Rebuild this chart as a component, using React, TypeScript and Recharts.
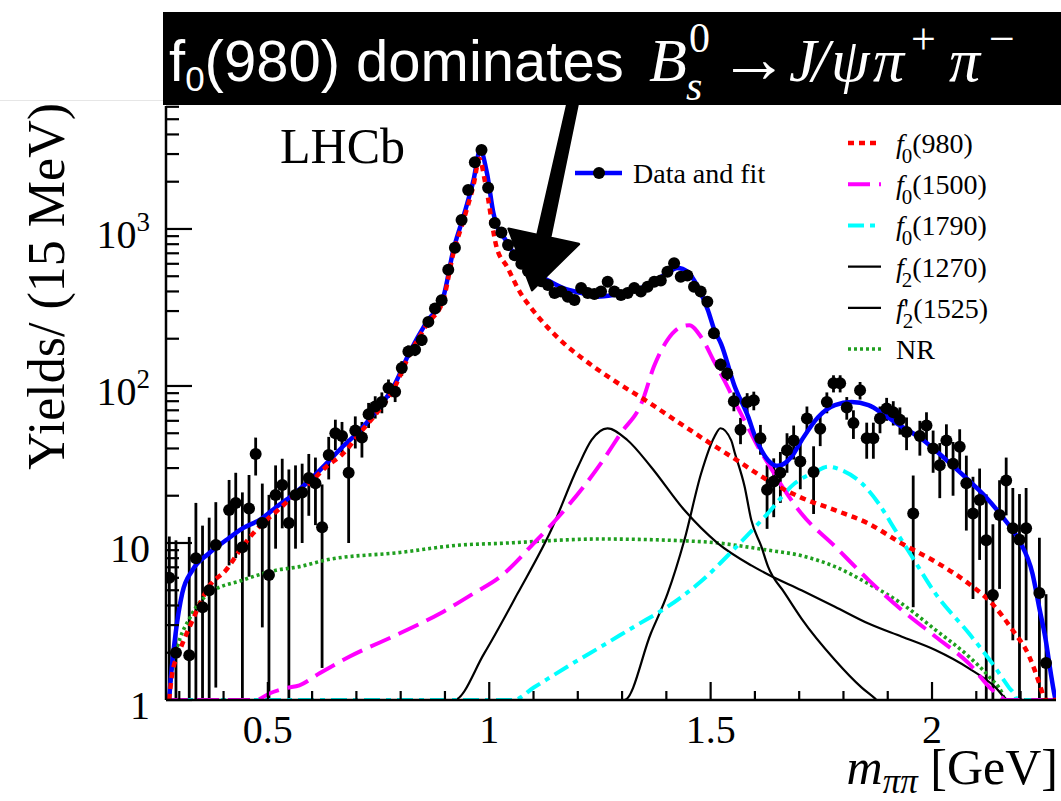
import React from 'react';
import { ComposedChart, Line, Scatter, XAxis, YAxis, ErrorBar, ReferenceLine, Legend } from 'recharts';

const SERIF = '"Liberation Serif", "Times New Roman", Times, serif';
const SANS = '"Liberation Sans", Arial, Helvetica, sans-serif';

// ---------- axis ticks ----------
const X_TICKS = [0.3, 0.4, 0.5, 0.6, 0.7, 0.8, 0.9, 1.0, 1.1, 1.2, 1.3, 1.4, 1.5, 1.6, 1.7, 1.8, 1.9, 2.0, 2.1, 2.2];
const X_MAJOR = [0.5, 1.0, 1.5, 2.0];
const X_LABELS = ['0.5', '1', '1.5', '2'];
const Y_TICKS = [1, 2, 3, 4, 5, 6, 7, 8, 9, 10, 20, 30, 40, 50, 60, 70, 80, 90, 100, 200, 300, 400, 500, 600, 700, 800, 900, 1000, 2000, 3000, 4000, 5000, 6000];
const Y_MAJOR = [1, 10, 100, 1000];
const Y_LABEL_BASE = ['1', '10', '10', '10'];
const Y_LABEL_EXP = ['', '', '2', '3'];
const X_DOMAIN = [0.27, 2.28];
const Y_DOMAIN = [1, 6070];

// ---------- data points (15 MeV bins) ----------
const MASS = [
  0.2775, 0.2925, 0.3225, 0.3375, 0.3525, 0.3675, 0.3825,
  0.4125, 0.4275, 0.4425, 0.4575, 0.4725, 0.4875, 0.5025, 0.5175, 0.5325, 0.5475, 0.5625, 0.5775, 0.5925,
  0.6075, 0.6225, 0.6375, 0.6525, 0.6675, 0.6825, 0.6975, 0.7125, 0.7275, 0.7425, 0.7575, 0.7725, 0.7875,
  0.8025, 0.8175, 0.8325, 0.8475, 0.8625, 0.8775, 0.8925, 0.9075, 0.9225, 0.9375, 0.9525, 0.9675, 0.9825,
  0.9975, 1.0125, 1.0275, 1.0425, 1.0575, 1.0725, 1.0875, 1.1025, 1.1175,
  1.1325, 1.1475, 1.1625, 1.1775, 1.1925, 1.2075, 1.2225, 1.2375, 1.2525, 1.2675, 1.2825, 1.2975, 1.3125,
  1.3275, 1.3425, 1.3575, 1.3725, 1.3875, 1.4025, 1.4175, 1.4325, 1.4475, 1.4625, 1.4775, 1.4925,
  1.5075, 1.5225, 1.5375, 1.5525, 1.5675, 1.5825, 1.5975, 1.6125, 1.6275, 1.6425, 1.6575, 1.6725, 1.6875,
  1.7025, 1.7175, 1.7325, 1.7475, 1.7625,
  1.7775, 1.7925, 1.8075, 1.8225, 1.8375, 1.8525, 1.8675, 1.8825, 1.8975, 1.9125, 1.9275, 1.9425, 1.9575,
  1.9725, 1.9875, 2.0025, 2.0175, 2.0325, 2.0475, 2.0625, 2.0775, 2.0925, 2.1075, 2.1225, 2.1375, 2.1525,
  2.1675, 2.1825, 2.1975, 2.2125, 2.2425, 2.2575,
];
const YIELD = [
  6.0, 2.0, 1.93, 8.0, 3.9, 5.0, 9.7,
  16.2, 18, 9.4, 16.6, 36.9, 13.4, 6.25, 20.2, 23.4, 13.4, 20.2, 21, 25.9,
  24, 12.6, 36.4, 50, 48, 28, 52, 47, 66, 74, 79, 97, 92,
  130, 166, 170, 196, 256, 312, 352, 550, 760, 1140, 1770, 2660, 3180,
  1830, 1090, 950, 790, 680, 600, 540, 495, 465,
  440, 391, 400, 370, 353, 421, 391, 385, 400, 461, 400, 380, 391,
  421, 400, 428, 461, 470, 534, 605, 497, 506, 428, 400, 344,
  217, 137, 120, 80, 52.6, 79, 81, 46.5, 21.8, 24.6, 28, 39, 45,
  33, 62, 28.3, 53.4, 79,
  104, 104, 73, 58, 94, 46.4, 46.4, 62, 72, 68, 61, 51, 15.4,
  48, 56, 40, 31.3, 45, 32, 41, 24, 15.4, 18.8, 10.4, 4.66, 15.1,
  25, 12.4, 10.5, 12.4, 4.8, 1.72,
];
const YIELD_ERR = [
  5, 8.4, 9, 10, 9, 9.5, 8.5,
  9, 10, 11.6, 10.5, 10, 10.5, 14, 11, 11, 16, 11, 11, 11,
  11, 11, 11, 11, 11, 18, 12, 12, 12, 12, 12, 13, 13,
  14, 15, 15, 16, 18, 19, 20, 24, 28, 34, 42, 52, 57,
  43, 33, 31, 28, 26, 25, 24, 23, 22,
  21, 20, 20, 20, 19, 21, 20, 20, 20, 21, 20, 20, 20,
  21, 20, 21, 21, 22, 23, 25, 22, 23, 21, 20, 19,
  15, 12, 12, 11, 10, 11, 11, 10, 9.5, 10, 10, 11, 11,
  11, 12, 13, 12, 12,
  13, 13, 12, 12, 12, 12, 12, 12, 12, 12, 12, 12, 11.5,
  12, 12, 12, 12, 12, 12, 12, 12, 11, 11, 10, 8.5, 10,
  10, 10, 10, 10, 6, 3,
];

// ---------- fit curves ----------
const TOTAL_X = [0.277, 0.2805, 0.2918, 0.3068, 0.3295, 0.3673, 0.4052, 0.4429, 0.4807, 0.5186, 0.5562, 0.5941, 0.632, 0.6689, 0.7075, 0.7454, 0.783, 0.8208, 0.8587, 0.8964, 0.919, 0.9417, 0.9644, 0.9796, 0.9948, 1.0098, 1.0211, 1.0324, 1.0551, 1.093, 1.1308, 1.1685, 1.2063, 1.2442, 1.2819, 1.3197, 1.3576, 1.3952, 1.4256, 1.4483, 1.471, 1.4937, 1.5086, 1.5238, 1.554, 1.5844, 1.6, 1.6297, 1.652, 1.6825, 1.7052, 1.7431, 1.7807, 1.8186, 1.8565, 1.8941, 1.932, 1.9698, 2.0075, 2.0454, 2.0832, 2.1209, 2.1587, 2.1966, 2.2268, 2.242, 2.2569, 2.2683, 2.276, 2.279];
const TOTAL_Y = [1.0, 1.34, 2.67, 4.8, 6.7, 8.6, 10.4, 12.4, 14.0, 16.9, 20.2, 25, 32, 41, 52, 70, 98, 165, 256, 370, 735, 1200, 2040, 3180, 2270, 1250, 980, 890, 700, 550, 473, 418, 392, 370, 380, 400, 438, 510, 565, 534, 428, 305, 227, 185, 100, 64, 48, 33.7, 31, 35.4, 45, 63.5, 75.5, 79, 75.5, 65, 55, 47.5, 39, 31.3, 25, 19.7, 14.7, 10.4, 6.4, 3.9, 2.4, 1.48, 1.1, 1.0];

const F0980_X = [0.277, 0.2841, 0.2993, 0.3295, 0.3673, 0.4052, 0.4429, 0.4807, 0.5186, 0.5562, 0.5941, 0.632, 0.6696, 0.7075, 0.7454, 0.783, 0.8208, 0.8587, 0.8964, 0.919, 0.9417, 0.9644, 0.978, 0.9905, 1.0169, 1.0402, 1.0703, 1.093, 1.1308, 1.1685, 1.2063, 1.28, 1.35, 1.43, 1.5, 1.55, 1.63, 1.70, 1.7807, 1.8565, 1.932, 2.0075, 2.0832, 2.1361, 2.1814, 2.2193, 2.242, 2.2494, 2.253, 2.28];
const F0980_Y = [1.0, 1.48, 2.0, 3.2, 5.3, 6.7, 9.5, 12.7, 15.8, 19.7, 24, 30.6, 37, 50, 67, 94, 160, 245, 355, 700, 1130, 1900, 2800, 2000, 760, 575, 392, 318, 238, 187, 153, 109, 82, 58, 43, 35, 25, 19.7, 16.2, 13.3, 9.9, 7.6, 5.5, 4.1, 2.8, 1.9, 1.28, 1.1, 1.0, 1.0];

const F01500_X = [0.27, 0.4732, 0.5034, 0.5413, 0.5714, 0.6168, 0.6848, 0.7982, 0.8889, 0.9644, 1.0249, 1.1005, 1.1762, 1.2517, 1.2971, 1.345, 1.3719, 1.4022, 1.4331, 1.4519, 1.4785, 1.5086, 1.539, 1.554, 1.577, 1.607, 1.63, 1.667, 1.705, 1.781, 1.857, 1.932, 2.008, 2.083, 2.136, 2.159, 2.165, 2.28];
const F01500_Y = [1, 1, 1.1, 1.19, 1.24, 1.48, 1.89, 2.66, 3.56, 4.77, 6.1, 9.95, 17, 32, 50, 79, 133, 196, 238, 244, 205, 142, 98, 80, 60, 41, 32, 21.7, 15.4, 9.5, 5.8, 3.74, 2.53, 1.71, 1.16, 1.03, 1.0, 1.0];

const F01790_X = [0.27, 1.055, 1.1005, 1.1762, 1.2517, 1.3273, 1.4029, 1.4785, 1.554, 1.6297, 1.6901, 1.7354, 1.7657, 1.7959, 1.8413, 1.8791, 1.9169, 1.9546, 2.0075, 2.0832, 2.1361, 2.1739, 2.1882, 2.192, 2.28];
const F01790_Y = [1, 1, 1.2, 1.63, 2.18, 2.93, 3.93, 5.7, 9.2, 15.5, 24, 28.3, 30.6, 29.1, 24, 17.9, 12.1, 8.2, 4.77, 2.66, 1.71, 1.2, 1.06, 1.0, 1.0];

const F21270_X = [0.27, 0.9206, 0.9887, 1.0643, 1.1399, 1.2004, 1.2313, 1.2669, 1.3118, 1.3651, 1.4406, 1.5163, 1.5918, 1.6297, 1.7052, 1.7807, 1.8565, 1.932, 2.0075, 2.0832, 2.1436, 2.1663, 2.17, 2.28];
const F21270_Y = [1, 1, 1.98, 4.78, 12.1, 30.6, 45.3, 53.7, 45.3, 30.6, 16.2, 9.95, 7.2, 6.3, 5.0, 3.93, 3.07, 2.53, 2.08, 1.59, 1.2, 1.02, 1.0, 1.0];

const F21525_X = [0.27, 1.3053, 1.3651, 1.4029, 1.4406, 1.4785, 1.5086, 1.5222, 1.5465, 1.554, 1.5767, 1.5918, 1.6145, 1.6297, 1.6673, 1.7052, 1.7807, 1.8413, 1.8716, 1.875, 2.28];
const F21525_Y = [1, 1, 2.66, 4.77, 10.4, 27.7, 47.5, 53.8, 45, 38, 22.9, 14, 9.5, 7.07, 4.8, 3.3, 1.8, 1.2, 1.02, 1.0, 1.0];

const NR_X = [0.277, 0.2841, 0.3295, 0.3673, 0.4429, 0.5186, 0.5714, 0.632, 0.7982, 0.9342, 1.0249, 1.2517, 1.4785, 1.6297, 1.7052, 1.7807, 1.8565, 1.932, 2.0075, 2.0832, 2.1285, 2.1587, 2.165, 2.28];
const NR_Y = [1.0, 1.55, 3.56, 4.77, 5.8, 6.7, 7.07, 7.8, 8.7, 9.7, 9.95, 10.6, 10.2, 9.0, 8.3, 7.07, 5.5, 4.1, 2.8, 1.89, 1.41, 1.1, 1.0, 1.0];

// ---------- legend text ----------
const LEG_SUB = ['0', '0', '0', '2', '2', ''];
const LEG_MASS = ['(980)', '(1500)', '(1790)', '(1270)', '(1525)', ''];
const LEG_PRIME = [false, false, false, false, true, false];
const LEG_PLAIN = ['', '', '', '', '', 'NR'];

// arrow annotation (data coordinates: start, tip)
const ARROW = [{ x: 1.19, y: 6600 }, { x: 1.0967, y: 408 }];

// ---------- build tables ----------
const toXY = (xs: number[], ys: number[]) => xs.map((x, i) => ({ x, y: ys[i] }));
const points = MASS.map((m, i) => {
  const v = YIELD[i];
  const e = YIELD_ERR[i];
  return { x: m, y: v, err: [Math.min(e, v - 1), e] };
});
const totalData = toXY(TOTAL_X, TOTAL_Y);
const f0980Data = toXY(F0980_X, F0980_Y);
const f01500Data = toXY(F01500_X, F01500_Y);
const f01790Data = toXY(F01790_X, F01790_Y);
const f21270Data = toXY(F21270_X, F21270_Y);
const f21525Data = toXY(F21525_X, F21525_Y);
const nrData = toXY(NR_X, NR_Y);

// ---------- styles ----------
const STY = [
  { stroke: '#ff0000', width: 4.5, dash: '6 5' },
  { stroke: '#ff00ff', width: 4, dash: '22 9' },
  { stroke: '#00ffff', width: 4, dash: '16 6 5 6' },
  { stroke: '#000000', width: 2.2, dash: undefined as any },
  { stroke: '#000000', width: 2.2, dash: undefined as any },
  { stroke: '#1f9f1f', width: 3.6, dash: '3 3' },
];

const W = 1061;
const H = 801;

const findIdx = (arr: number[], v: number) => arr.findIndex((a) => Math.abs(a - v) < 1e-9);

const BottomTick = (p: any) => {
  const { x, y, payload } = p;
  const idx = findIdx(X_MAJOR, payload.value);
  const major = idx >= 0;
  return (
    <g>
      <line x1={x} x2={x} y1={y} y2={y - (major ? 18 : 9)} stroke="#000" strokeWidth={2.2} />
      {major && (
        <text x={x} y={y + 43} textAnchor="middle" fontFamily={SERIF} fontSize={40} fill="#000">
          {X_LABELS[idx]}
        </text>
      )}
    </g>
  );
};

const TopTick = (p: any) => {
  const { x, y, payload } = p;
  const major = findIdx(X_MAJOR, payload.value) >= 0;
  return <line x1={x} x2={x} y1={y} y2={y + (major ? 16 : 8)} stroke="#000" strokeWidth={2.2} />;
};

const LeftTick = (p: any) => {
  const { x, y, payload } = p;
  const idx = findIdx(Y_MAJOR, payload.value);
  const major = idx >= 0;
  return (
    <g>
      <line x1={x} x2={x + (major ? 26 : 13)} y1={y} y2={y} stroke="#000" strokeWidth={2.2} />
      {major && (
        <text x={x - 16} y={y + 19} textAnchor="end" fontFamily={SERIF} fontSize={40} fill="#000">
          {Y_LABEL_BASE[idx]}
          {Y_LABEL_EXP[idx] ? (
            <tspan dy={-17} fontSize={27}>
              {Y_LABEL_EXP[idx]}
            </tspan>
          ) : null}
        </text>
      )}
    </g>
  );
};

const RightTick = (p: any) => {
  const { x, y, payload } = p;
  const major = findIdx(Y_MAJOR, payload.value) >= 0;
  return <line x1={x} x2={x - (major ? 22 : 11)} y1={y} y2={y} stroke="#000" strokeWidth={2.2} />;
};

const YTitle = () => (
  <text transform="translate(64,103) rotate(-90)" textAnchor="end" fontFamily={SERIF} fontSize={52} fill="#000">
    Yields/ (15 MeV)
  </text>
);

const XTitle = () => (
  <text x={1058} y={784} textAnchor="end" fontFamily={SERIF} fontSize={50} fill="#000">
    <tspan fontStyle="italic">m</tspan>
    <tspan fontStyle="italic" fontSize={35} dy={9}>ππ</tspan>
    <tspan dy={-9}> [GeV]</tspan>
  </text>
);

const Dot = (p: any) => <circle cx={p.cx} cy={p.cy} r={6} fill="#000" />;

const ArrowShape = (p: any) => {
  const { x1, y1, x2, y2 } = p;
  if (![x1, y1, x2, y2].every((v) => Number.isFinite(v))) return <g />;
  const dx = x2 - x1;
  const dy = y2 - y1;
  const L = Math.hypot(dx, dy);
  const ux = dx / L;
  const uy = dy / L;
  const nx = -uy;
  const ny = ux;
  const headLen = 55;
  const headHalf = 36;
  const s0 = 5;
  const s1 = 6.5;
  const bx = x2 - ux * headLen;
  const by = y2 - uy * headLen;
  const pts = [
    [x1 + nx * s0, y1 + ny * s0],
    [bx + nx * s1, by + ny * s1],
    [bx + nx * headHalf, by + ny * headHalf],
    [x2, y2],
    [bx - nx * headHalf, by - ny * headHalf],
    [bx - nx * s1, by - ny * s1],
    [x1 - nx * s0, y1 - ny * s0],
  ];
  return (
    <polygon
      points={pts.map((q) => q.join(',')).join(' ')}
      fill="#000"
      stroke="#000"
      strokeWidth={2.5}
      strokeLinejoin="round"
    />
  );
};

const LegendLayer = () => (
  <svg width={W} height={H} style={{ position: 'absolute', left: 0, top: 0 }}>
    <text x={280} y={163} fontFamily={SERIF} fontSize={50} fill="#000">LHCb</text>
    <line x1={575} x2={622} y1={173} y2={173} stroke="#0000ff" strokeWidth={4.5} />
    <circle cx={599} cy={173} r={6} fill="#000" />
    <text x={633} y={183} fontFamily={SERIF} fontSize={28} fill="#000">Data and fit</text>
    {STY.map((s, i) => {
      const ry = 143 + 41.2 * i;
      return (
        <g key={i}>
          <line x1={848} x2={881} y1={ry} y2={ry} stroke={s.stroke} strokeWidth={s.width} strokeDasharray={s.dash} />
          {LEG_PLAIN[i] ? (
            <text x={896} y={ry + 10} fontFamily={SERIF} fontSize={28} fill="#000">{LEG_PLAIN[i]}</text>
          ) : (
            <text x={896} y={ry + 10} fontFamily={SERIF} fontSize={28} fill="#000">
              <tspan fontStyle="italic">f</tspan>
              {LEG_PRIME[i] ? <tspan>'</tspan> : null}
              <tspan fontSize={21} dx={LEG_PRIME[i] ? -6 : -2} dy={10}>{LEG_SUB[i]}</tspan>
              <tspan dy={-10}>{LEG_MASS[i]}</tspan>
            </text>
          )}
        </g>
      );
    })}
  </svg>
);

const Banner = () => (
  <div style={{ position: 'absolute', left: 163, top: 12, width: W - 163, height: 93, background: '#000' }}>
    <svg width={W - 163} height={93} style={{ display: 'block' }}>
      <text x={6} y={69} fill="#fff" fontFamily={SANS} fontSize={58}>
        f<tspan fontSize={35} dy={10}>0</tspan>
        <tspan dy={-10}>(980) dominates</tspan>
      </text>
      <g fill="#fff" fontFamily={SERIF}>
        <text x={486} y={69} fontSize={62} fontStyle="italic">B</text>
        <text x={526} y={40} fontSize={42}>0</text>
        <text x={523} y={88} fontSize={42} fontStyle="italic">s</text>
        <text x={556} y={70} fontSize={70}>→</text>
        <text x={626} y={69} fontSize={62} fontStyle="italic">J</text>
        <text x={649} y={69} fontSize={62} fontStyle="italic">/</text>
        <text x={668} y={69} fontSize={62} fontStyle="italic">ψ</text>
        <text x={710} y={69} fontSize={62} fontStyle="italic">π</text>
        <text x={748} y={42} fontSize={44}>+</text>
        <text x={786} y={69} fontSize={62} fontStyle="italic">π</text>
        <text x={826} y={42} fontSize={46}>−</text>
      </g>
    </svg>
  </div>
);

export default function App() {
  return (
    <div style={{ position: 'absolute', left: 0, top: 0, width: W, height: H, background: '#fff', overflow: 'hidden' }}>
      <div style={{ position: 'absolute', left: 0, top: 100, width: 163, height: 1, background: '#e6e6e6' }} />
      <ComposedChart width={W} height={H} margin={{ top: 106, right: 5, bottom: 0, left: 0 }}>
        <XAxis
          xAxisId="b"
          dataKey="x"
          type="number"
          orientation="bottom"
          domain={X_DOMAIN}
          allowDataOverflow
          ticks={X_TICKS}
          interval={0}
          height={101}
          tickSize={0}
          tickMargin={0}
          tickLine={false}
          tick={(p: any) => <BottomTick {...p} />}
          axisLine={{ stroke: '#000', strokeWidth: 2.5 }}
          label={XTitle}
        />
        <XAxis
          xAxisId="t"
          dataKey="x"
          type="number"
          orientation="top"
          domain={X_DOMAIN}
          allowDataOverflow
          ticks={X_TICKS}
          interval={0}
          height={0}
          tickSize={0}
          tickMargin={0}
          tickLine={false}
          tick={(p: any) => <TopTick {...p} />}
          axisLine={{ stroke: '#000', strokeWidth: 2.5 }}
        />
        <YAxis
          yAxisId="l"
          dataKey="y"
          type="number"
          scale="log"
          domain={Y_DOMAIN}
          allowDataOverflow
          ticks={Y_TICKS}
          interval={0}
          width={166}
          tickSize={0}
          tickMargin={0}
          tickLine={false}
          tick={(p: any) => <LeftTick {...p} />}
          axisLine={{ stroke: '#000', strokeWidth: 2.5 }}
          label={YTitle}
        />
        <YAxis
          yAxisId="r"
          dataKey="y"
          type="number"
          orientation="right"
          scale="log"
          domain={Y_DOMAIN}
          allowDataOverflow
          ticks={Y_TICKS}
          interval={0}
          width={0}
          tickSize={0}
          tickMargin={0}
          tickLine={false}
          tick={(p: any) => <RightTick {...p} />}
          axisLine={{ stroke: '#000', strokeWidth: 2.5 }}
        />
        <Scatter xAxisId="b" yAxisId="l" data={points} dataKey="y" shape={Dot} isAnimationActive={false}>
          <ErrorBar dataKey="err" direction="y" width={0} stroke="#000" strokeWidth={2.8} isAnimationActive={false} />
        </Scatter>
        <Line xAxisId="b" yAxisId="l" data={nrData} dataKey="y" type="monotone" stroke={STY[5].stroke} strokeWidth={STY[5].width} strokeDasharray={STY[5].dash} dot={false} isAnimationActive={false} />
        <Line xAxisId="b" yAxisId="l" data={f21270Data} dataKey="y" type="monotone" stroke={STY[3].stroke} strokeWidth={STY[3].width} dot={false} isAnimationActive={false} />
        <Line xAxisId="b" yAxisId="l" data={f21525Data} dataKey="y" type="monotone" stroke={STY[4].stroke} strokeWidth={STY[4].width} dot={false} isAnimationActive={false} />
        <Line xAxisId="b" yAxisId="l" data={f01790Data} dataKey="y" type="monotone" stroke={STY[2].stroke} strokeWidth={STY[2].width} strokeDasharray={STY[2].dash} dot={false} isAnimationActive={false} />
        <Line xAxisId="b" yAxisId="l" data={f01500Data} dataKey="y" type="monotone" stroke={STY[1].stroke} strokeWidth={STY[1].width} strokeDasharray={STY[1].dash} dot={false} isAnimationActive={false} />
        <Line xAxisId="b" yAxisId="l" data={totalData} dataKey="y" type="monotone" stroke="#0000ff" strokeWidth={4.5} dot={false} isAnimationActive={false} />
        <Line xAxisId="b" yAxisId="l" data={f0980Data} dataKey="y" type="monotone" stroke={STY[0].stroke} strokeWidth={STY[0].width} strokeDasharray={STY[0].dash} dot={false} isAnimationActive={false} />
        <ReferenceLine xAxisId="b" yAxisId="l" segment={ARROW} ifOverflow="visible" shape={ArrowShape} />
        <Legend
          content={() => <LegendLayer />}
          layout="horizontal"
          verticalAlign="middle"
          align="center"
          wrapperStyle={{ position: 'absolute', left: 0, top: 0, width: W, height: H, pointerEvents: 'none' }}
        />
      </ComposedChart>
      <Banner />
    </div>
  );
}
